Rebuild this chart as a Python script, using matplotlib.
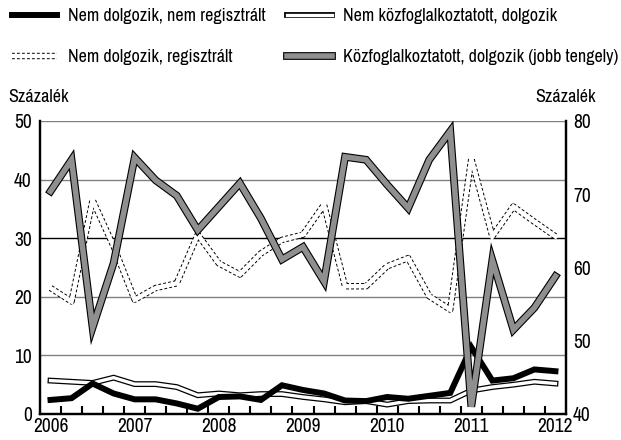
import numpy as np
import matplotlib
matplotlib.use('Agg')
import matplotlib.pyplot as plt

plt.rcParams['font.family'] = ['Archivo Narrow', 'DejaVu Sans']

# negyedéves adatok, 2006Q1 - 2012Q1
years = ['2006', '2007', '2008', '2009', '2010', '2011', '2012']

nem_dolg_nem_reg = [2.4, 2.7, 5.2, 3.5, 2.5, 2.5, 1.8, 0.9, 2.9, 3.0, 2.4, 4.9, 4.1,
                    3.5, 2.3, 2.2, 2.9, 2.6, 3.1, 3.6, 11.4, 5.7, 6.1, 7.6, 7.3]
nem_kozf_dolg = [5.7, 5.5, 5.3, 6.2, 5.1, 5.1, 4.6, 3.2, 3.5, 3.2, 3.4, 3.4, 2.9,
                 2.5, 2.0, 2.2, 1.6, 2.2, 2.3, 2.3, 4.0, 4.6, 5.0, 5.5, 5.2]
nem_dolg_reg = [21.5, 19.2, 36.5, 28.6, 19.5, 21.5, 22.3, 30.6, 25.7, 23.8, 27.4, 29.7, 30.6,
                35.7, 21.8, 21.8, 25.2, 26.6, 20.1, 17.8, 43.6, 30.3, 35.4, 32.8, 30.3]
kozf_dolg = [70.4, 74.7, 51.8, 60.6, 75.0, 71.9, 69.8, 65.1, 68.3, 71.5, 66.7, 61.1, 62.8,
             58.1, 75.1, 74.7, 71.3, 68.1, 74.7, 78.6, 41.0, 61.0, 51.5, 54.5, 58.8]

labels = ['Nem dolgozik, nem regisztrált', 'Nem dolgozik, regisztrált',
          'Nem közfoglalkoztatott, dolgozik', 'Közfoglalkoztatott, dolgozik (jobb tengely)']

x = np.arange(len(kozf_dolg))

fig = plt.figure(figsize=(6.21, 4.40), dpi=100)
ax = fig.add_axes([0.0644, 0.0591, 0.847, 0.666])
ax2 = ax.twinx()

# fehér, fekete kontúros vonal
w_out, = ax.plot(x, nem_kozf_dolg, color='black', lw=4.2, solid_joinstyle='miter')
w_in, = ax.plot(x, nem_kozf_dolg, color='white', lw=2.4, solid_joinstyle='miter')

# szaggatott kontúros vonal
d_out, = ax.plot(x, nem_dolg_reg, color='black', lw=4.6, dashes=(0.45, 0.33))
d_in, = ax.plot(x, nem_dolg_reg, color='white', lw=3.2, solid_joinstyle='miter')

# fekete vastag vonal
b_line, = ax.plot(x, nem_dolg_nem_reg, color='black', lw=4.3, solid_joinstyle='miter')

# szürke vonal a jobb tengelyen
g_out, = ax2.plot(x, kozf_dolg, color='black', lw=5.6, solid_joinstyle='miter')
g_in, = ax2.plot(x, kozf_dolg, color='#8f8f8f', lw=4.0, solid_joinstyle='miter')

ax.set_xlim(-0.5, 24.5)
ax.set_ylim(0, 50)
ax2.set_ylim(40, 80)

ax.set_yticks(range(0, 51, 10))
ax2.set_yticks(range(40, 81, 10))
ax.yaxis.grid(True, color='#808080', lw=1.0)
ax.get_ygridlines()[3].set_color('black')
ax.set_axisbelow(True)

ax.set_xticks(range(0, 25, 4), labels=years)
ax.set_xticks(np.arange(0.5, 24, 1), minor=True)
ax.tick_params(axis='x', which='major', length=0, labelsize=14, pad=2)
ax.tick_params(axis='x', which='minor', direction='in', length=6, width=1.5)
ax.tick_params(axis='y', length=0, labelsize=14, pad=6)
ax2.tick_params(axis='y', length=0, labelsize=14, pad=5)

for a in (ax, ax2):
    a.spines['top'].set_visible(False)
    for s in ('left', 'right', 'bottom'):
        a.spines[s].set_linewidth(1.6)

leg_kw = dict(loc='upper left', frameon=False, fontsize=13, handlelength=2.5,
              handletextpad=0.6, labelspacing=1.4, borderpad=0, borderaxespad=0)
fig.legend([b_line, (d_out, d_in)], labels[:2], bbox_to_anchor=(12 / 621, 1 - 8 / 440), **leg_kw)
fig.legend([(w_out, w_in), (g_out, g_in)], labels[2:], bbox_to_anchor=(287 / 621, 1 - 8 / 440), **leg_kw)

fig.text(8 / 621, 1 - 97 / 440, 'Százalék', ha='left', va='center', fontsize=13)
fig.text(596 / 621, 1 - 97 / 440, 'Százalék', ha='right', va='center', fontsize=13)

fig.savefig('out.png', dpi=100)
